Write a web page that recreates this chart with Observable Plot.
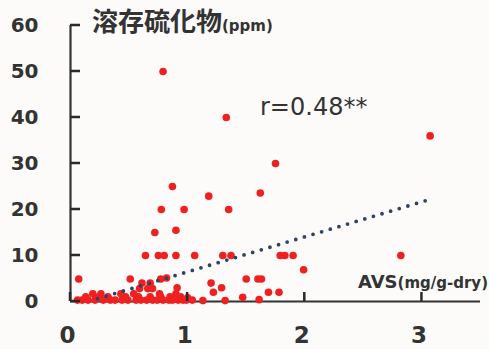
<!DOCTYPE html>
<html><head><meta charset="utf-8">
<script src="https://cdn.jsdelivr.net/npm/d3@7"></script>
<script src="https://cdn.jsdelivr.net/npm/@observablehq/plot@0.6"></script>
<style>
html,body{margin:0;padding:0;background:#fcfbfa;}
#chart{width:489px;height:349px;}
</style></head><body><div id="chart"></div>
<script>
// AVS (mg/g-dry) and dissolved sulfide (ppm) for each sample
const avs = [
  0.79, 1.33, 3.07, 1.75, 0.87, 1.62, 1.18, 0.775, 0.97, 1.35, 0.72, 0.90,
  0.64, 0.75, 0.80, 0.90, 1.06, 1.30, 1.37, 1.79, 1.83, 1.90, 2.82,
  1.99,
  0.07, 0.51, 0.77, 0.82, 1.50, 1.60, 1.63,
  0.61, 0.68, 1.20,
  0.91, 1.29, 0.59, 0.66, 0.70,
  1.22, 1.69, 1.78, 0.19, 0.26, 0.43, 0.54, 0.76, 0.90,
  1.47, 1.00, 0.13, 0.24, 0.32, 0.47, 0.58, 0.68, 0.77, 0.85, 0.94,
  1.32, 1.13, 1.61, 0.06, 0.10, 0.15, 0.21, 0.28, 0.34, 0.38, 0.44, 0.49,
  0.56, 0.60, 0.65, 0.70, 0.74, 0.79, 0.84, 0.87, 0.92, 0.96, 0.99, 1.04
];
const sulfide = [
  50, 40, 36, 30, 25, 23.6, 22.9, 20, 20, 20, 15, 15.5,
  10, 10, 10, 10, 10, 10, 10, 10, 10, 10, 10,
  6.9,
  4.9, 4.9, 4.9, 5.1, 4.9, 4.9, 4.9,
  4, 4, 4,
  3, 3, 2.8, 2.8, 2.8,
  2, 2, 2, 1.7, 1.7, 1.7, 1.7, 1.7, 1.7,
  0.9, 0.8, 1, 1, 1, 1, 1, 1, 1, 1, 1,
  0.2, 0.2, 0.4, 0.3, 0.3, 0.3, 0.3, 0.3, 0.3, 0.3, 0.3, 0.3,
  0.3, 0.3, 0.3, 0.3, 0.3, 0.3, 0.3, 0.3, 0.3, 0.3, 0.3, 0.3
];
// regression line end points
const trendAvs = [0.23, 3.07];
const trendSulfide = [0.6, 22.2];
const xTicks = [0, 1, 2, 3];
const yTicks = [0, 10, 20, 30, 40, 50, 60];
const xDomain = [0, 3.5];
const yDomain = [0, 60];

const points = avs.map((x, i) => ({x, y: sulfide[i]}));
const trend = trendAvs.map((x, i) => ({x, y: trendSulfide[i]}));
const axisColor = "#333";
const font = "'DejaVu Sans', sans-serif";
const fmt = d => String(d);

const plot = Plot.plot({
  width: 489, height: 349,
  marginLeft: 70, marginRight: 9, marginTop: 25, marginBottom: 48,
  style: {background: "transparent", fontFamily: font, overflow: "visible"},
  x: {domain: xDomain},
  y: {domain: yDomain},
  marks: [
    Plot.axisY(yTicks, {tickSize: 0, tickPadding: 32, tickFormat: fmt, label: null, fontSize: 20, fontWeight: "bold", fill: axisColor}),
    Plot.axisX(xTicks, {tickSize: 0, tickPadding: 25, dx: -3, tickFormat: fmt, label: null, fontSize: 23, fontWeight: "bold", fill: axisColor}),
    Plot.ruleX([0], {stroke: axisColor, strokeWidth: 2.2}),
    Plot.ruleY([0], {stroke: axisColor, strokeWidth: 2.2}),
    Plot.dot(points, {x: "x", y: "y", r: 3.8, fill: "#ee2020", stroke: "none"}),
    Plot.line(trend, {x: "x", y: "y", stroke: "#2d4468", strokeWidth: 3.8, strokeDasharray: "0 9", strokeLinecap: "round"})
  ]
});

const svg = d3.select(plot);
const sx = plot.scale("x"), sy = plot.scale("y");
// inward tick marks, positioned through the plot's own scales
const tickG = svg.append("g").attr("fill", "#2a2a2a");
for (const t of yTicks) {
  const py = sy.apply(t), px = sx.apply(0);
  tickG.append("rect").attr("x", px).attr("y", py - 1.25).attr("width", 10).attr("height", 2.5);
}
for (const t of xTicks) {
  const px = sx.apply(t), py = sy.apply(0);
  tickG.append("rect").attr("x", px - 1.25).attr("y", py - 9).attr("width", 2.5).attr("height", 9);
}

const title = svg.append("text").attr("x", 92).attr("y", 31).attr("text-anchor", "start").attr("fill", "#333");
title.append("tspan").text("溶存硫化物")
  .attr("font-family", "'Noto Sans CJK JP', sans-serif").attr("font-weight", "bold").attr("font-size", 26);
title.append("tspan").text("(ppm)")
  .attr("font-family", font).attr("font-weight", "bold").attr("font-size", 15);

svg.append("text").attr("x", 260).attr("y", 115).attr("text-anchor", "start").attr("fill", "#333")
  .attr("font-family", font).attr("font-size", 24).text("r=0.48**");

const xl = svg.append("text").attr("x", 488).attr("y", 288).attr("text-anchor", "end").attr("fill", "#333")
  .attr("font-family", font).attr("font-weight", "bold");
xl.append("tspan").attr("font-size", 18).text("AVS");
xl.append("tspan").attr("font-size", 15).text("(mg/g-dry)");

document.getElementById("chart").append(plot);
</script>
</body></html>
